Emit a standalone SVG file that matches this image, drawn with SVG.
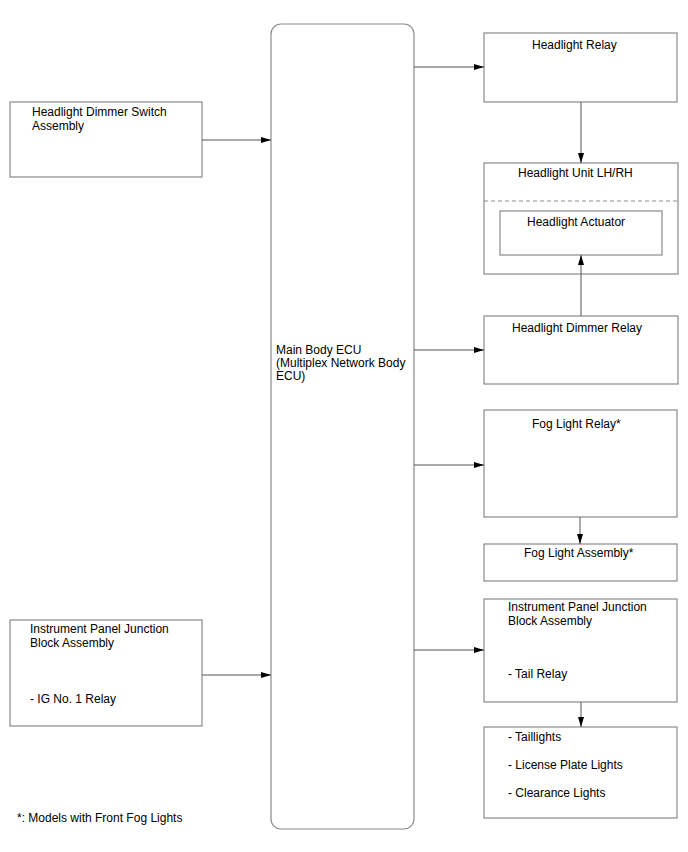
<svg xmlns="http://www.w3.org/2000/svg" width="688" height="852" viewBox="0 0 688 852">
<style>
.box{fill:#fff;stroke:#8a8a8a;stroke-width:1.2}
.dash{stroke:#8a8a8a;stroke-width:1;stroke-dasharray:4 3;fill:none}
.ln{stroke:#555;stroke-width:1;fill:none;marker-end:url(#ah)}
text{font-family:"Liberation Sans",Arial,sans-serif;font-size:12px;fill:#000}
</style>
<defs>
<marker id="ah" viewBox="0 0 10 6" refX="10" refY="3" markerWidth="10" markerHeight="6" markerUnits="userSpaceOnUse" orient="auto">
<path d="M0,0 L10,3 L0,6 Z" fill="#000"/>
</marker>
</defs>
<rect width="688" height="852" fill="#fff"/>
<g id="dimmer-switch">
<rect class="box" x="10" y="102" width="192" height="75"/>
<text x="32" y="116">Headlight Dimmer Switch</text>
<text x="32" y="130">Assembly</text>
</g>
<g id="ij-left">
<rect class="box" x="10" y="620" width="192" height="106"/>
<text x="30" y="633">Instrument Panel Junction</text>
<text x="30" y="647">Block Assembly</text>
<text x="30" y="703">- IG No. 1 Relay</text>
</g>
<g id="ecu">
<rect class="box" x="271" y="24" width="143" height="805" rx="10" ry="10"/>
<text x="276" y="354">Main Body ECU</text>
<text x="276" y="367">(Multiplex Network Body</text>
<text x="276" y="380">ECU)</text>
</g>
<g id="headlight-relay">
<rect class="box" x="484" y="33" width="193" height="69"/>
<text x="532" y="49">Headlight Relay</text>
</g>
<g id="headlight-unit">
<rect class="box" x="484" y="163" width="194" height="111"/>
<text x="518" y="177">Headlight Unit LH/RH</text>
<line class="dash" x1="484" y1="201" x2="678" y2="201"/>
</g>
<g id="headlight-actuator">
<rect class="box" x="500" y="211" width="162" height="44"/>
<text x="527" y="226">Headlight Actuator</text>
</g>
<g id="dimmer-relay">
<rect class="box" x="484" y="316" width="194" height="68"/>
<text x="512" y="332">Headlight Dimmer Relay</text>
</g>
<g id="fog-relay">
<rect class="box" x="484" y="410" width="193" height="107"/>
<text x="532" y="428">Fog Light Relay*</text>
</g>
<g id="fog-assembly">
<rect class="box" x="484" y="544" width="193" height="37"/>
<text x="524" y="557">Fog Light Assembly*</text>
</g>
<g id="ij-right">
<rect class="box" x="484" y="599" width="193" height="103"/>
<text x="508" y="611">Instrument Panel Junction</text>
<text x="508" y="625">Block Assembly</text>
<text x="508" y="678">- Tail Relay</text>
</g>
<g id="lights">
<rect class="box" x="484" y="727" width="193" height="91"/>
<text x="508" y="741">- Taillights</text>
<text x="508" y="769">- License Plate Lights</text>
<text x="508" y="797">- Clearance Lights</text>
</g>
<text x="17" y="822">*: Models with Front Fog Lights</text>
<g id="connectors">
<line class="ln" x1="202" y1="140" x2="271" y2="140"/>
<line class="ln" x1="202" y1="675" x2="271" y2="675"/>
<line class="ln" x1="414" y1="67" x2="484" y2="67"/>
<line class="ln" x1="414" y1="350" x2="484" y2="350"/>
<line class="ln" x1="414" y1="465" x2="484" y2="465"/>
<line class="ln" x1="414" y1="650" x2="484" y2="650"/>
<line class="ln" x1="581" y1="102" x2="581" y2="163"/>
<line class="ln" x1="581" y1="316" x2="581" y2="255"/>
<line class="ln" x1="580" y1="517" x2="580" y2="544"/>
<line class="ln" x1="581" y1="702" x2="581" y2="727"/>
</g>
</svg>
